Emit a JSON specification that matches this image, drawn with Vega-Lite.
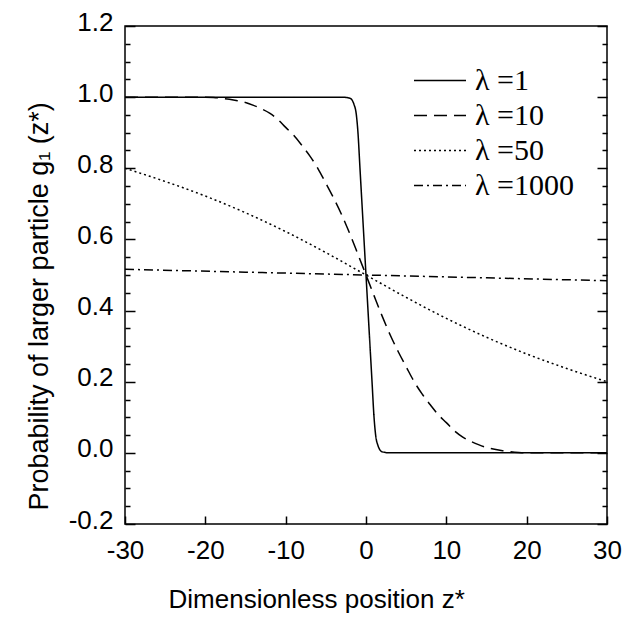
{
  "$schema": "https://vega.github.io/schema/vega-lite/v6.json",
  "width": 482,
  "height": 498,
  "autosize": {"type": "none"},
  "padding": {"left": 125, "top": 26, "right": 23, "bottom": 97},
  "background": "white",
  "config": {
    "view": {"stroke": "black", "strokeWidth": 1.5},
    "axis": {
      "grid": false,
      "domain": false,
      "labelFont": "Liberation Sans",
      "labelFontSize": 26,
      "labelColor": "black",
      "tickColor": "black",
      "tickWidth": 1.5,
      "titleFont": "Liberation Sans",
      "titleFontSize": 26,
      "titleFontWeight": "normal",
      "titleColor": "black"
    }
  },
  "data": {
    "values": [
      {"lam": "λ =1", "z": -30, "g": 1.0},
      {"lam": "λ =1", "z": -10, "g": 1.0},
      {"lam": "λ =1", "z": -3, "g": 1.0},
      {"lam": "λ =1", "z": -2, "g": 0.997},
      {"lam": "λ =1", "z": -1.5, "g": 0.98},
      {"lam": "λ =1", "z": -1.2, "g": 0.95},
      {"lam": "λ =1", "z": -1, "g": 0.9},
      {"lam": "λ =1", "z": -0.75, "g": 0.8},
      {"lam": "λ =1", "z": -0.5, "g": 0.7},
      {"lam": "λ =1", "z": -0.25, "g": 0.6},
      {"lam": "λ =1", "z": 0, "g": 0.5},
      {"lam": "λ =1", "z": 0.25, "g": 0.4},
      {"lam": "λ =1", "z": 0.5, "g": 0.3},
      {"lam": "λ =1", "z": 0.75, "g": 0.2},
      {"lam": "λ =1", "z": 1, "g": 0.1},
      {"lam": "λ =1", "z": 1.2, "g": 0.05},
      {"lam": "λ =1", "z": 1.5, "g": 0.02},
      {"lam": "λ =1", "z": 2, "g": 0.003},
      {"lam": "λ =1", "z": 3, "g": 0.0},
      {"lam": "λ =1", "z": 10, "g": 0.0},
      {"lam": "λ =1", "z": 30, "g": 0.0},

      {"lam": "λ =10", "z": -30, "g": 1.0},
      {"lam": "λ =10", "z": -25, "g": 1.0},
      {"lam": "λ =10", "z": -20, "g": 1.0},
      {"lam": "λ =10", "z": -19, "g": 0.999},
      {"lam": "λ =10", "z": -18, "g": 0.997},
      {"lam": "λ =10", "z": -17, "g": 0.994},
      {"lam": "λ =10", "z": -16, "g": 0.99},
      {"lam": "λ =10", "z": -15, "g": 0.985},
      {"lam": "λ =10", "z": -14, "g": 0.977},
      {"lam": "λ =10", "z": -13, "g": 0.967},
      {"lam": "λ =10", "z": -12, "g": 0.955},
      {"lam": "λ =10", "z": -11, "g": 0.938},
      {"lam": "λ =10", "z": -10, "g": 0.915},
      {"lam": "λ =10", "z": -9, "g": 0.893},
      {"lam": "λ =10", "z": -8, "g": 0.865},
      {"lam": "λ =10", "z": -7, "g": 0.835},
      {"lam": "λ =10", "z": -6, "g": 0.8},
      {"lam": "λ =10", "z": -5, "g": 0.758},
      {"lam": "λ =10", "z": -4, "g": 0.715},
      {"lam": "λ =10", "z": -3, "g": 0.668},
      {"lam": "λ =10", "z": -2, "g": 0.615},
      {"lam": "λ =10", "z": -1, "g": 0.558},
      {"lam": "λ =10", "z": 0, "g": 0.5},
      {"lam": "λ =10", "z": 1, "g": 0.442},
      {"lam": "λ =10", "z": 2, "g": 0.385},
      {"lam": "λ =10", "z": 3, "g": 0.332},
      {"lam": "λ =10", "z": 4, "g": 0.285},
      {"lam": "λ =10", "z": 5, "g": 0.242},
      {"lam": "λ =10", "z": 6, "g": 0.2},
      {"lam": "λ =10", "z": 7, "g": 0.165},
      {"lam": "λ =10", "z": 8, "g": 0.135},
      {"lam": "λ =10", "z": 9, "g": 0.107},
      {"lam": "λ =10", "z": 10, "g": 0.085},
      {"lam": "λ =10", "z": 11, "g": 0.062},
      {"lam": "λ =10", "z": 12, "g": 0.045},
      {"lam": "λ =10", "z": 13, "g": 0.033},
      {"lam": "λ =10", "z": 14, "g": 0.023},
      {"lam": "λ =10", "z": 15, "g": 0.015},
      {"lam": "λ =10", "z": 16, "g": 0.01},
      {"lam": "λ =10", "z": 17, "g": 0.006},
      {"lam": "λ =10", "z": 18, "g": 0.003},
      {"lam": "λ =10", "z": 19, "g": 0.001},
      {"lam": "λ =10", "z": 20, "g": 0.0},
      {"lam": "λ =10", "z": 25, "g": 0.0},
      {"lam": "λ =10", "z": 30, "g": 0.0},

      {"lam": "λ =50", "z": -30, "g": 0.8},
      {"lam": "λ =50", "z": -25, "g": 0.763},
      {"lam": "λ =50", "z": -20, "g": 0.722},
      {"lam": "λ =50", "z": -15, "g": 0.675},
      {"lam": "λ =50", "z": -10, "g": 0.622},
      {"lam": "λ =50", "z": -5, "g": 0.563},
      {"lam": "λ =50", "z": 0, "g": 0.5},
      {"lam": "λ =50", "z": 5, "g": 0.437},
      {"lam": "λ =50", "z": 10, "g": 0.378},
      {"lam": "λ =50", "z": 15, "g": 0.325},
      {"lam": "λ =50", "z": 20, "g": 0.278},
      {"lam": "λ =50", "z": 25, "g": 0.237},
      {"lam": "λ =50", "z": 30, "g": 0.2},

      {"lam": "λ =1000", "z": -30, "g": 0.516},
      {"lam": "λ =1000", "z": -15, "g": 0.508},
      {"lam": "λ =1000", "z": 0, "g": 0.5},
      {"lam": "λ =1000", "z": 15, "g": 0.492},
      {"lam": "λ =1000", "z": 30, "g": 0.484}
    ]
  },
  "resolve": {"axis": {"x": "independent", "y": "independent"}},
  "layer": [
    {
      "mark": {"type": "line", "interpolate": "monotone", "strokeWidth": 1.5, "color": "black", "clip": true},
      "encoding": {
        "x": {
          "field": "z", "type": "quantitative",
          "scale": {"domain": [-30, 30], "nice": false, "zero": false},
          "axis": {
            "orient": "bottom",
            "values": [-30, -20, -10, 0, 10, 20, 30],
            "labelExpr": "replace(datum.label, '−', '-')",
            "tickSize": -8,
            "labelPadding": 21,
            "labelFlush": false,
            "title": "Dimensionless position  z*",
            "titleX": 43,
            "titleY": 83,
            "titleAlign": "left",
            "titleBaseline": "alphabetic"
          }
        },
        "y": {
          "field": "g", "type": "quantitative",
          "scale": {"domain": [-0.2, 1.2], "nice": false, "zero": false},
          "axis": {
            "orient": "left",
            "values": [-0.2, 0, 0.2, 0.4, 0.6, 0.8, 1.0, 1.2],
            "format": ".1f",
            "labelExpr": "replace(datum.label, '−', '-')",
            "tickSize": -10,
            "labelPadding": 22,
            "labelFlush": false,
            "labelOffset": -4,
            "title": "Probability of larger particle    g₁ (z*)",
            "titleFontSize": 27,
            "titleAngle": -90,
            "titleX": -78,
            "titleY": 484,
            "titleAlign": "left",
            "titleBaseline": "alphabetic"
          }
        },
        "strokeDash": {
          "field": "lam", "type": "nominal",
          "scale": {
            "domain": ["λ =1", "λ =10", "λ =50", "λ =1000"],
            "range": [[1, 0], [13, 7], [2, 3], [9, 4, 2, 4]]
          },
          "legend": {
            "orient": "none",
            "legendX": 288,
            "legendY": 37,
            "title": null,
            "symbolType": "stroke",
            "symbolSize": 2704,
            "symbolStrokeWidth": 1.5,
            "symbolStrokeColor": "black",
            "clipHeight": 35,
            "labelFont": "Liberation Serif",
            "labelFontSize": 30,
            "labelColor": "black",
            "labelOffset": 8,
            "rowPadding": 0,
            "padding": 0
          }
        }
      }
    },
    {
      "mark": {"type": "line", "opacity": 0},
      "encoding": {
        "x": {"field": "z", "type": "quantitative", "axis": null},
        "y": {
          "field": "g", "type": "quantitative",
          "axis": {
            "orient": "left",
            "values": [-0.15, -0.1, -0.05, 0.05, 0.1, 0.15, 0.25, 0.3, 0.35, 0.45, 0.5, 0.55, 0.65, 0.7, 0.75, 0.85, 0.9, 0.95, 1.05, 1.1, 1.15],
            "tickSize": -5,
            "labels": false,
            "title": null
          }
        }
      }
    },
    {
      "mark": {"type": "line", "opacity": 0},
      "encoding": {
        "x": {"field": "z", "type": "quantitative", "axis": null},
        "y": {
          "field": "g", "type": "quantitative",
          "axis": {
            "orient": "right",
            "values": [-0.2, 0, 0.2, 0.4, 0.6, 0.8, 1.0, 1.2],
            "tickSize": -10,
            "labels": false,
            "title": null
          }
        }
      }
    },
    {
      "mark": {"type": "line", "opacity": 0},
      "encoding": {
        "x": {"field": "z", "type": "quantitative", "axis": null},
        "y": {
          "field": "g", "type": "quantitative",
          "axis": {
            "orient": "right",
            "values": [-0.15, -0.1, -0.05, 0.05, 0.1, 0.15, 0.25, 0.3, 0.35, 0.45, 0.5, 0.55, 0.65, 0.7, 0.75, 0.85, 0.9, 0.95, 1.05, 1.1, 1.15],
            "tickSize": -5,
            "labels": false,
            "title": null
          }
        }
      }
    }
  ]
}
